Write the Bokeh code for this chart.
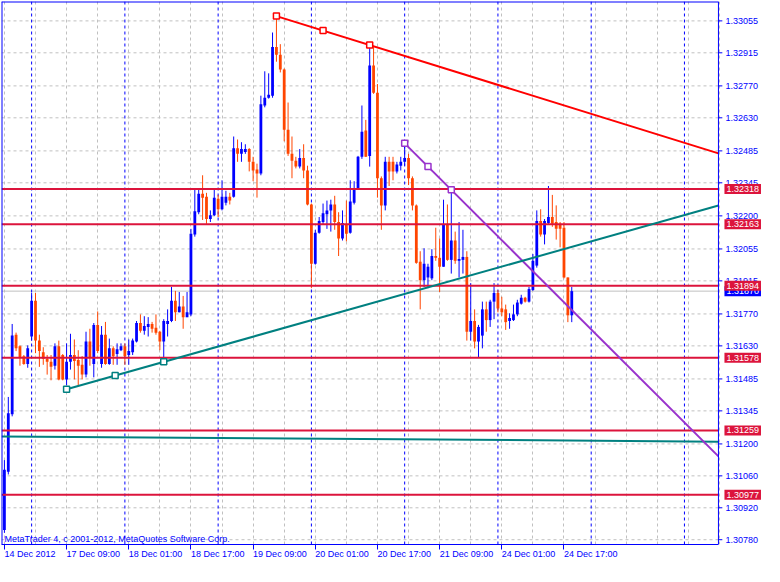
from bokeh.plotting import figure
from bokeh.models import Range1d, FixedTicker, Span, Label, ColumnDataSource
from bokeh.core.properties import value
from bokeh.embed import file_html
from bokeh.resources import INLINE

# ---------------- data (EURUSD H1, bar index 0 = 14 Dec 2012 17:00) ----------------
open_ = [1.30823, 1.31078, 1.31330, 1.31679, 1.31628, 1.31585, 1.31551, 1.31671, 1.31828, 1.31653,
         1.31602, 1.31573, 1.31560, 1.31543, 1.31628, 1.31590, 1.31483, 1.31560, 1.31590, 1.31568,
         1.31547, 1.31504, 1.31649, 1.31551, 1.31722, 1.31551, 1.31679, 1.31551, 1.31619, 1.31594,
         1.31611, 1.31628, 1.31590, 1.31602, 1.31649, 1.31730, 1.31696, 1.31713, 1.31726, 1.31709,
         1.31692, 1.31649, 1.31726, 1.31739, 1.31828, 1.31777, 1.31803, 1.31756, 1.31768, 1.32118,
         1.32216, 1.32297, 1.32284, 1.32186, 1.32203, 1.32275, 1.32229, 1.32258, 1.32284, 1.32284,
         1.32497, 1.32472, 1.32480, 1.32493, 1.32437, 1.32403, 1.32386, 1.32684, 1.32718, 1.32727,
         1.32940, 1.32906, 1.32842, 1.32578, 1.32472, 1.32442, 1.32416, 1.32454, 1.32399, 1.32250,
         1.31990, 1.32126, 1.32173, 1.32207, 1.32224, 1.32250, 1.32173, 1.32101, 1.32160, 1.32126,
         1.32258, 1.32314, 1.32459, 1.32574, 1.32463, 1.32859, 1.32740, 1.32365, 1.32246, 1.32437,
         1.32437, 1.32395, 1.32420, 1.32437, 1.32454, 1.32365, 1.32246, 1.31999, 1.31918, 1.31930,
         1.31926, 1.32024, 1.32016, 1.31977, 1.32160, 1.32007, 1.32092, 1.32003, 1.32007, 1.32020,
         1.31692, 1.31739, 1.31649, 1.31675, 1.31790, 1.31743, 1.31824, 1.31862, 1.31794, 1.31790,
         1.31739, 1.31743, 1.31768, 1.31815, 1.31841, 1.31824, 1.31875, 1.31982, 1.32178, 1.32118,
         1.32169, 1.32195, 1.32173, 1.32165, 1.32148, 1.31930, 1.31764]
high = [1.31129, 1.31406, 1.31726, 1.31688, 1.31632, 1.31590, 1.31632, 1.31862, 1.31862, 1.31679,
        1.31624, 1.31590, 1.31590, 1.31641, 1.31653, 1.31594, 1.31641, 1.31683, 1.31658, 1.31611,
        1.31585, 1.31692, 1.31705, 1.31730, 1.31781, 1.31717, 1.31735, 1.31662, 1.31628, 1.31641,
        1.31641, 1.31641, 1.31658, 1.31662, 1.31739, 1.31768, 1.31760, 1.31756, 1.31735, 1.31768,
        1.31696, 1.31747, 1.31790, 1.31888, 1.31871, 1.31866, 1.31849, 1.31866, 1.32143, 1.32322,
        1.32322, 1.32378, 1.32301, 1.32224, 1.32322, 1.32292, 1.32356, 1.32310, 1.32301, 1.32548,
        1.32535, 1.32523, 1.32514, 1.32497, 1.32459, 1.32429, 1.32727, 1.32834, 1.32825, 1.33004,
        1.33076, 1.32953, 1.32846, 1.32697, 1.32548, 1.32459, 1.32493, 1.32514, 1.32420, 1.32254,
        1.32139, 1.32195, 1.32254, 1.32267, 1.32271, 1.32288, 1.32216, 1.32224, 1.32267, 1.32356,
        1.32352, 1.32463, 1.32684, 1.32621, 1.32949, 1.32940, 1.32778, 1.32373, 1.32459, 1.32459,
        1.32459, 1.32437, 1.32459, 1.32523, 1.32472, 1.32373, 1.32250, 1.32045, 1.32058, 1.31990,
        1.32054, 1.32148, 1.32101, 1.32271, 1.32250, 1.32314, 1.32131, 1.32173, 1.32139, 1.32045,
        1.31905, 1.31790, 1.31722, 1.31824, 1.31824, 1.31832, 1.31905, 1.31875, 1.31845, 1.31811,
        1.31773, 1.31811, 1.31832, 1.31854, 1.31845, 1.31888, 1.32033, 1.32224, 1.32229, 1.32186,
        1.32331, 1.32292, 1.32246, 1.32173, 1.32173, 1.31930, 1.31888]
low = [1.30810, 1.31066, 1.31321, 1.31607, 1.31543, 1.31547, 1.31534, 1.31653, 1.31598, 1.31538,
       1.31547, 1.31504, 1.31479, 1.31526, 1.31479, 1.31479, 1.31457, 1.31526, 1.31483, 1.31457,
       1.31483, 1.31492, 1.31543, 1.31492, 1.31598, 1.31534, 1.31547, 1.31547, 1.31547, 1.31547,
       1.31607, 1.31547, 1.31547, 1.31590, 1.31645, 1.31688, 1.31679, 1.31671, 1.31688, 1.31679,
       1.31611, 1.31577, 1.31671, 1.31734, 1.31739, 1.31777, 1.31705, 1.31756, 1.31760, 1.32109,
       1.32207, 1.32182, 1.32165, 1.32173, 1.32199, 1.32195, 1.32224, 1.32246, 1.32250, 1.32280,
       1.32437, 1.32437, 1.32472, 1.32395, 1.32352, 1.32280, 1.32378, 1.32676, 1.32714, 1.32718,
       1.32876, 1.32829, 1.32527, 1.32463, 1.32365, 1.32408, 1.32408, 1.32365, 1.32246, 1.31883,
       1.31986, 1.32122, 1.32160, 1.32143, 1.32131, 1.32139, 1.32024, 1.32092, 1.32088, 1.32122,
       1.32250, 1.32314, 1.32450, 1.32459, 1.32416, 1.32735, 1.32280, 1.32139, 1.32224, 1.32331,
       1.32356, 1.32386, 1.32399, 1.32420, 1.32335, 1.32224, 1.31990, 1.31790, 1.31888, 1.31883,
       1.31918, 1.32003, 1.31866, 1.31977, 1.32003, 1.31947, 1.31990, 1.31930, 1.31947, 1.31653,
       1.31653, 1.31619, 1.31577, 1.31619, 1.31692, 1.31713, 1.31747, 1.31777, 1.31760, 1.31700,
       1.31705, 1.31739, 1.31760, 1.31811, 1.31820, 1.31820, 1.31871, 1.31973, 1.32109, 1.32075,
       1.32165, 1.32152, 1.32096, 1.32062, 1.31926, 1.31734, 1.31734]
close = [1.31087, 1.31334, 1.31675, 1.31619, 1.31577, 1.31551, 1.31619, 1.31828, 1.31653, 1.31607,
         1.31573, 1.31560, 1.31538, 1.31628, 1.31483, 1.31483, 1.31560, 1.31590, 1.31564, 1.31543,
         1.31504, 1.31649, 1.31577, 1.31722, 1.31607, 1.31679, 1.31551, 1.31619, 1.31585, 1.31615,
         1.31628, 1.31585, 1.31607, 1.31653, 1.31730, 1.31696, 1.31717, 1.31726, 1.31705, 1.31688,
         1.31649, 1.31739, 1.31739, 1.31828, 1.31777, 1.31803, 1.31756, 1.31777, 1.32122, 1.32220,
         1.32297, 1.32280, 1.32186, 1.32203, 1.32280, 1.32229, 1.32284, 1.32284, 1.32267, 1.32497,
         1.32472, 1.32493, 1.32493, 1.32437, 1.32399, 1.32386, 1.32689, 1.32718, 1.32731, 1.32940,
         1.32906, 1.32842, 1.32578, 1.32472, 1.32442, 1.32416, 1.32454, 1.32399, 1.32250, 1.31990,
         1.32126, 1.32178, 1.32212, 1.32224, 1.32250, 1.32173, 1.32101, 1.32169, 1.32122, 1.32263,
         1.32314, 1.32459, 1.32569, 1.32459, 1.32859, 1.32740, 1.32365, 1.32246, 1.32437, 1.32395,
         1.32395, 1.32425, 1.32437, 1.32454, 1.32365, 1.32246, 1.31994, 1.31918, 1.31990, 1.31977,
         1.32024, 1.32016, 1.31977, 1.32160, 1.32007, 1.32092, 1.32003, 1.32011, 1.32020, 1.31692,
         1.31739, 1.31649, 1.31713, 1.31790, 1.31743, 1.31824, 1.31862, 1.31794, 1.31777, 1.31734,
         1.31752, 1.31768, 1.31820, 1.31841, 1.31824, 1.31879, 1.32003, 1.32178, 1.32118, 1.32178,
         1.32195, 1.32165, 1.32143, 1.32143, 1.31930, 1.31764, 1.31870]
bar_index = list(range(len(open_)))

price_ticks = [1.33055, 1.32915, 1.32770, 1.32630, 1.32485, 1.32345, 1.32200, 1.32055, 1.31915,
               1.31770, 1.31630, 1.31485, 1.31345, 1.31200, 1.31060, 1.30920, 1.30780]
time_tick_bars = [0, 16, 32, 48, 64, 80, 96, 112, 128, 144]
time_tick_labels = ["14 Dec 2012", "17 Dec 09:00", "18 Dec 01:00", "18 Dec 17:00", "19 Dec 09:00",
                    "20 Dec 01:00", "20 Dec 17:00", "21 Dec 09:00", "24 Dec 01:00", "24 Dec 17:00"]
grid_bars = list(range(0, 185, 8))
day_separator_bars = [7, 31, 55, 79, 103, 127, 151, 175]
level_prices = [1.32318, 1.32163, 1.31894, 1.31578, 1.31259, 1.30977]
bid_price = 1.31870

red_trend_bars, red_trend_prices = [70, 94], [1.33076, 1.32949]
purple_trend_bars, purple_trend_prices = [103, 115], [1.32518, 1.32314]
teal_trend_bars, teal_trend_prices = [16, 41], [1.31440, 1.31560]
teal_flat_prices = [1.31233, 1.31210]

# ---------------- layout / style constants ----------------
X_START, X_END = -0.75, 183.75      # chart area in bar units
X_FULL = 195.6                       # frame also holds the price scale
Y_MIN, Y_MAX = 1.30759, 1.33140
TICK_LEN = 1.0                       # price-scale tick length, bar units

BLUE = "#0000FF"
BEAR = "#FF4500"
CRIMSON = "#DC143C"
GRID = "#C0C0C0"
FONT = "Liberation Sans"
FS = "9px"

p = figure(width=764, height=566, x_range=Range1d(X_START, X_FULL), y_range=Range1d(Y_MIN, Y_MAX),
           y_axis_location=None, output_backend="svg", toolbar_location=None,
           min_border_left=1, min_border_top=1, min_border_right=0, min_border_bottom=0,
           background_fill_color="white", border_fill_color="white")
p.outline_line_color = None
p.ygrid.visible = False

# vertical grid
p.xgrid.ticker = FixedTicker(ticks=grid_bars)
p.xgrid.grid_line_color = GRID
p.xgrid.grid_line_dash = "3 3"

# horizontal grid (stops at the price scale)
n = len(price_ticks)
p.segment(x0=[X_START] * n, y0=price_ticks, x1=[X_END] * n, y1=price_ticks,
          line_color=GRID, line_dash="3 3", line_width=1, level="underlay")

# day separators
for b in day_separator_bars:
    p.add_layout(Span(location=b, dimension="height", line_color=BLUE, line_dash="3 3",
                      line_width=1, level="underlay"))
# bid line
p.segment(x0=[X_START], y0=[bid_price], x1=[X_END], y1=[bid_price], line_color=GRID, line_width=1,
          level="underlay")

# candles
bull = [c >= o for o, c in zip(open_, close)]
src = ColumnDataSource(dict(
    x=bar_index, high=high, low=low,
    top=[max(o, c) for o, c in zip(open_, close)],
    bottom=[min(o, c) for o, c in zip(open_, close)],
    color=[BLUE if b else BEAR for b in bull]))
p.segment(x0="x", y0="low", x1="x", y1="high", line_color="color", line_width=1, source=src)
p.vbar(x="x", width=0.72, top="top", bottom="bottom", fill_color="color", line_color=None, source=src)

# horizontal levels
m = len(level_prices)
p.segment(x0=[X_START] * m, y0=level_prices, x1=[X_END] * m, y1=level_prices,
          line_color=CRIMSON, line_width=2)

# trend lines
def extend(bars, prices):
    slope = (prices[1] - prices[0]) / (bars[1] - bars[0])
    return [bars[0], X_END], [prices[0], prices[0] + slope * (X_END - bars[0])]

def trend(bars, prices, color):
    xs, ys = extend(bars, prices)
    p.line(xs, ys, line_color=color, line_width=2)
    mx = [bars[0], (bars[0] + bars[1]) / 2, bars[1]]
    my = [prices[0], (prices[0] + prices[1]) / 2, prices[1]]
    p.scatter(mx, my, marker="square", size=6, fill_color="white", line_color=color, line_width=1.5)

p.line([X_START, X_END], teal_flat_prices, line_color="#008080", line_width=2)
trend(red_trend_bars, red_trend_prices, "#FF0000")
trend(purple_trend_bars, purple_trend_prices, "#9932CC")
trend(teal_trend_bars, teal_trend_prices, "#008080")

# chart frame (left, top) and price scale line
p.add_layout(Span(location=X_START, dimension="height", line_color=BLUE, line_width=2))
p.segment(x0=[X_START], y0=[Y_MAX], x1=[X_END], y1=[Y_MAX], line_color=BLUE, line_width=2)
p.add_layout(Span(location=X_END, dimension="height", line_color=BLUE, line_width=1))

# price scale: ticks and labels
p.segment(x0=[X_END] * n, y0=price_ticks, x1=[X_END + TICK_LEN] * n, y1=price_ticks,
          line_color=BLUE, line_width=1)
p.text(x=[X_END] * n, y=price_ticks, text=["%.5f" % t for t in price_ticks], x_offset=7,
       text_color=BLUE, text_font=value(FONT), text_font_size=value(FS),
       text_baseline="middle", text_align="left")

# price labels of the bid and of the levels
p.text(x=[X_END] * 1, y=[bid_price], text=["%.5f" % bid_price], x_offset=6,
       text_color="white", text_font=value(FONT), text_font_size=value(FS),
       text_baseline="middle", text_align="left", background_fill_color=BLUE, padding=2)
p.text(x=[X_END] * m, y=level_prices, text=["%.5f" % v for v in level_prices], x_offset=6,
       text_color="white", text_font=value(FONT), text_font_size=value(FS),
       text_baseline="middle", text_align="left", background_fill_color=CRIMSON, padding=2)

# time axis
xa = p.xaxis[0]
xa.bounds = (X_START, X_END)
xa.ticker = FixedTicker(ticks=time_tick_bars)
xa.major_label_overrides = {b: t for b, t in zip(time_tick_bars, time_tick_labels)}
xa.major_label_orientation = -1e-9
xa.axis_line_color = BLUE
xa.major_tick_line_color = BLUE
xa.major_tick_in = 0
xa.major_tick_out = 5
xa.minor_tick_line_color = None
xa.major_label_text_color = BLUE
xa.major_label_text_font = FONT
xa.major_label_text_font_size = FS
xa.major_label_standoff = 4

p.add_layout(Label(x=X_START, y=Y_MIN, x_offset=3, y_offset=1,
                   text="MetaTrader 4, c 2001-2012, MetaQuotes Software Corp.",
                   text_color=BLUE, text_font=FONT, text_font_size=FS, text_baseline="bottom"))

open("out.html", "w").write(file_html(p, INLINE))
